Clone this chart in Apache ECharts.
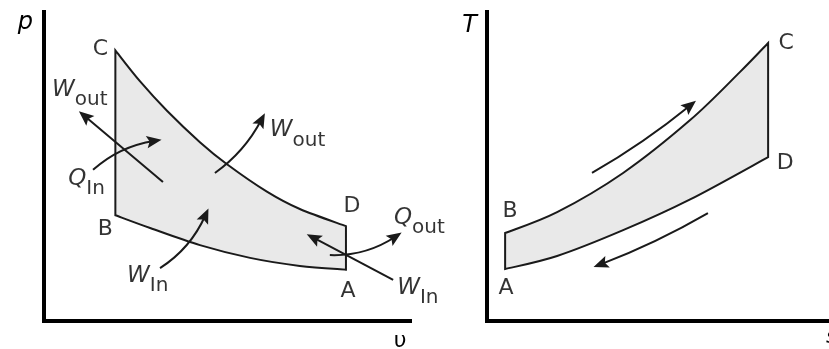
<!DOCTYPE html>
<html>
<head>
<meta charset="utf-8">
<script src="https://cdn.jsdelivr.net/npm/echarts@6/dist/echarts.min.js"></script>
<style>
  html, body { margin: 0; padding: 0; background: #ffffff; }
  #chart { width: 829px; height: 349px; }
</style>
</head>
<body>
<div id="chart"></div>
<script>
// ---------- p–v diagram (arbitrary units) ----------
const pvStateNames = ['A', 'B', 'C', 'D'];
const pvStateV = [8.25, 1.95, 1.95, 8.25];
const pvStateP = [1.65, 3.4, 8.7, 3.05];

// C → D expansion
const pvUpperV = [1.95, 2.62, 3.36, 4.26, 5.0, 6.09, 6.99, 8.25];
const pvUpperP = [8.7, 7.71, 6.76, 5.75, 5.04, 4.16, 3.60, 3.05];
// B → A (compression runs A → B)
const pvLowerV = [1.95, 2.90, 4.26, 5.63, 6.99, 8.25];
const pvLowerP = [3.4, 2.99, 2.44, 2.03, 1.77, 1.65];

// energy-flow arrows: tail → head
const pvArrowFromV = [3.25, 1.34, 4.67, 3.17, 9.54, 7.81];
const pvArrowFromP = [4.47, 4.86, 4.76, 1.70, 1.32, 2.12];
const pvArrowToV = [1.11, 3.01, 5.94, 4.41, 7.36, 9.60];
const pvArrowToP = [6.59, 5.79, 6.47, 3.40, 2.68, 2.71];

// energy-flow captions (symbol, subscript, anchor)
const pvNoteMain = ['W', 'Q', 'W', 'W', 'Q', 'W'];
const pvNoteSub = ['out', 'In', 'out', 'In', 'out', 'In'];
const pvNoteV = [0.22, 0.66, 6.17, 2.27, 9.56, 9.65];
const pvNoteP = [7.81, 4.95, 6.50, 1.83, 3.69, 1.44];

// ---------- T–s diagram ----------
const tsStateNames = ['A', 'B', 'C', 'D'];
const tsStateS = [0.53, 0.53, 8.22, 8.22];
const tsStateT = [1.67, 2.83, 8.94, 5.27];

// B → C heating
const tsUpperS = [0.53, 2.05, 3.98, 5.94, 7.40, 8.22];
const tsUpperT = [2.83, 3.50, 4.76, 6.46, 8.01, 8.94];
// A → D (cooling runs D → A)
const tsLowerS = [0.53, 2.05, 3.98, 5.94, 8.22];
const tsLowerT = [1.67, 2.09, 2.92, 3.91, 5.27];

const tsArrowFromS = [3.07, 6.46];
const tsArrowFromT = [4.76, 3.47];
const tsArrowToS = [5.94, 3.32];
const tsArrowToT = [6.93, 1.82];

// ---------- styling ----------
const INK = '#1a1a1a';
const TEXT = '#000000';
const FILL = '#e9e9e9';
const FONT = 'DejaVu Sans';
const ARROW = 'path://M0,0M12,13M6,0L11,13L6,10.5L1,13Z';

const pvArrowBend = [0, 0.15, -0.12, -0.15, 0, -0.16];
const tsArrowBend = [-0.04, 0.04];

const pvLabelOffset = { A: [2, 22], B: [-10, 14], C: [-15, -1], D: [6, -20] };
const tsLabelOffset = { A: [1, 19], B: [5, -22], C: [18, 0], D: [17, 6] };

function axisPair(idx, xName, yName, xNameStyle, yNameStyle, xGap, yGap) {
  const line = { show: true, onZero: false, lineStyle: { color: '#000', width: 4 } };
  return {
    x: {
      type: 'value', gridIndex: idx, min: 0, max: 10,
      name: xName, nameLocation: 'end', nameGap: xGap, nameTextStyle: xNameStyle,
      axisLine: { ...line, lineStyle: { ...line.lineStyle, cap: 'square' } },
      axisTick: { show: false }, axisLabel: { show: false }, splitLine: { show: false }
    },
    y: {
      type: 'value', gridIndex: idx, min: 0, max: 10,
      name: yName, nameLocation: 'end', nameGap: yGap, nameTextStyle: yNameStyle,
      axisLine: { ...line, lineStyle: { ...line.lineStyle, cap: 'butt' } },
      axisTick: { show: false }, axisLabel: { show: false }, splitLine: { show: false }
    }
  };
}

const nameStyle = (extra) => Object.assign({
  fontFamily: FONT, fontStyle: 'italic', color: TEXT, fontSize: 24, lineHeight: 24
}, extra);

const pvAxes = axisPair(0, 'υ', 'p',
  nameStyle({ fontStyle: 'normal', fontSize: 22, lineHeight: 22, align: 'center', verticalAlign: 'top', padding: [9, 0, 0, 0] }),
  nameStyle({ align: 'right', verticalAlign: 'top', padding: [0, 11, 0, 0] }),
  -10, -1);
const tsAxes = axisPair(1, 's', 'T',
  nameStyle({ fontSize: 22, lineHeight: 22, align: 'left', verticalAlign: 'top', padding: [5, 0, 0, 0] }),
  nameStyle({ align: 'right', verticalAlign: 'top', padding: [0, 10, 0, 0] }),
  -3, -4);

// Catmull-Rom spline through pixel points, written as cubic Bézier commands
function splineCommands(pts) {
  let d = '';
  for (let i = 0; i < pts.length - 1; i++) {
    const p0 = pts[Math.max(i - 1, 0)];
    const p1 = pts[i];
    const p2 = pts[i + 1];
    const p3 = pts[Math.min(i + 2, pts.length - 1)];
    const c1 = [p1[0] + (p2[0] - p0[0]) / 6, p1[1] + (p2[1] - p0[1]) / 6];
    const c2 = [p2[0] - (p3[0] - p1[0]) / 6, p2[1] - (p3[1] - p1[1]) / 6];
    d += `C${c1[0]},${c1[1]} ${c2[0]},${c2[1]} ${p2[0]},${p2[1]}`;
  }
  return d;
}

// Closed cycle: upper branch left→right, vertical drop, lower branch right→left, vertical rise
function cycleSeries(name, idx, upX, upY, loX, loY) {
  return {
    name, type: 'custom', coordinateSystem: 'cartesian2d', xAxisIndex: idx, yAxisIndex: idx,
    z: 2, silent: true, clip: false,
    data: [[upX[0], upY[0]]],
    renderItem: (params, api) => {
      const up = upX.map((x, i) => api.coord([x, upY[i]]));
      const lo = loX.map((x, i) => api.coord([x, loY[i]])).reverse();
      const start = up[0];
      const path = `M${start[0]},${start[1]}` + splineCommands(up) +
        `L${lo[0][0]},${lo[0][1]}` + splineCommands(lo) + 'Z';
      return {
        type: 'path',
        shape: { pathData: path },
        style: { fill: FILL, stroke: INK, lineWidth: 2, lineJoin: 'miter' }
      };
    }
  };
}

function arrows(name, idx, fx, fy, tx, ty, bend, z) {
  return {
    name, type: 'lines', coordinateSystem: 'cartesian2d', xAxisIndex: idx, yAxisIndex: idx,
    z, silent: true, symbol: ['none', ARROW], symbolSize: 15,
    lineStyle: { color: INK, width: 2, opacity: 1 },
    itemStyle: { color: INK },
    data: fx.map((x, i) => ({
      coords: [[x, fy[i]], [tx[i], ty[i]]],
      lineStyle: { curveness: bend[i] }
    }))
  };
}

function states(name, idx, names, xs, ys, offsets, z) {
  return {
    name, type: 'scatter', xAxisIndex: idx, yAxisIndex: idx, z, silent: true,
    symbolSize: 0,
    data: names.map((n, i) => ({
      name: n, value: [xs[i], ys[i]],
      label: { offset: offsets[n] }
    })),
    label: {
      show: true, position: 'inside', formatter: '{b}',
      fontFamily: FONT, fontSize: 22, color: TEXT
    }
  };
}

const option = {
  animation: false,
  backgroundColor: '#ffffff',
  grid: [
    { left: 44, top: 10, width: 366, height: 311, containLabel: false, outerBoundsMode: 'none' },
    { left: 487, top: 10, width: 342, height: 311, containLabel: false, outerBoundsMode: 'none' }
  ],
  xAxis: [pvAxes.x, tsAxes.x],
  yAxis: [pvAxes.y, tsAxes.y],
  series: [
    // p–v cycle
    cycleSeries('pv-cycle', 0, pvUpperV, pvUpperP, pvLowerV, pvLowerP),
    arrows('pv-energy', 0, pvArrowFromV, pvArrowFromP, pvArrowToV, pvArrowToP, pvArrowBend, 5),
    states('pv-states', 0, pvStateNames, pvStateV, pvStateP, pvLabelOffset, 6),
    {
      name: 'pv-notes', type: 'scatter', xAxisIndex: 0, yAxisIndex: 0, z: 6, silent: true,
      symbolSize: 0,
      data: pvNoteMain.map((m, i) => ({ value: [pvNoteV[i], pvNoteP[i]], main: m, sub: pvNoteSub[i] })),
      label: {
        show: true, position: [0, 0],
        formatter: p => `{w|${p.data.main}}{s|${p.data.sub}}`,
        rich: {
          w: { fontFamily: FONT, fontStyle: 'italic', fontSize: 23, lineHeight: 24, verticalAlign: 'top', color: TEXT },
          s: { fontFamily: FONT, fontSize: 20, lineHeight: 20, padding: [12, 0, 0, 0], verticalAlign: 'top', color: TEXT }
        }
      }
    },
    // T–s cycle
    cycleSeries('ts-cycle', 1, tsUpperS, tsUpperT, tsLowerS, tsLowerT),
    arrows('ts-direction', 1, tsArrowFromS, tsArrowFromT, tsArrowToS, tsArrowToT, tsArrowBend, 5),
    states('ts-states', 1, tsStateNames, tsStateS, tsStateT, tsLabelOffset, 6)
  ]
};

const chart = echarts.init(document.getElementById('chart'), null, { renderer: 'canvas' });
chart.setOption(option);
</script>
</body>
</html>
